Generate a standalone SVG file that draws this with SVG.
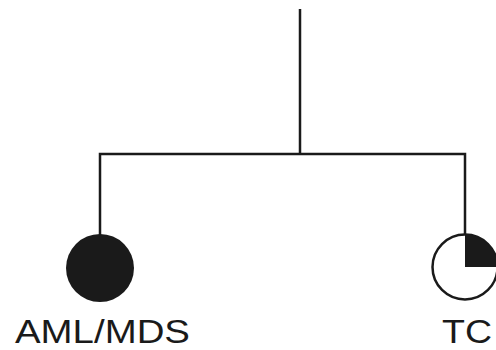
<svg xmlns="http://www.w3.org/2000/svg" width="496" height="350" viewBox="0 0 496 350">
<style>
.ln{stroke:#1a1a1a;stroke-width:2.5;fill:none}
.lbl{font-family:"Liberation Sans",Arial,sans-serif;font-size:33px;fill:#1a1a1a}
</style>
<rect width="496" height="350" fill="#fff"/>
<g id="connectors">
<path class="ln" d="M300,9 V154"/>
<path class="ln" d="M100,235 V154 H465 V235"/>
</g>
<g id="aml">
<circle cx="100" cy="268" r="34" fill="#1a1a1a"/>
<text class="lbl" x="15" y="343" textLength="175" lengthAdjust="spacingAndGlyphs">AML/MDS</text>
</g>
<g id="tc">
<circle cx="465" cy="267" r="32.5" fill="#fff" stroke="#1a1a1a" stroke-width="2.5"/>
<path d="M465,267 V234.5 A32.5,32.5 0 0 1 497.5,267 Z" fill="#1a1a1a"/>
<text class="lbl" x="442" y="343" textLength="50" lengthAdjust="spacingAndGlyphs">TC</text>
</g>
</svg>
